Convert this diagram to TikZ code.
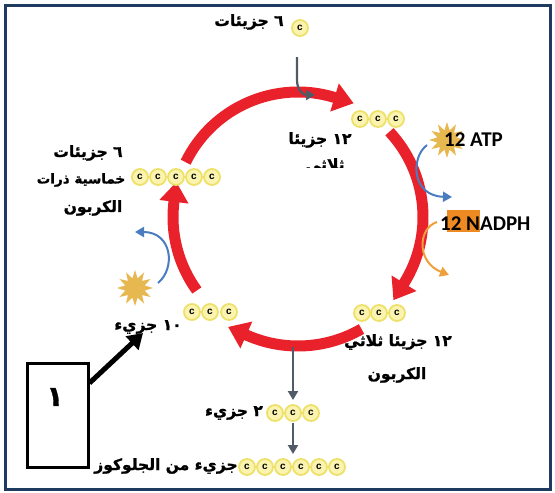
\documentclass[tikz,border=0pt]{standalone}
\usepackage{fontspec}
\usetikzlibrary{arrows.meta,shapes.geometric}
\setmainfont{Liberation Sans}
\newfontfamily\arabicfont[Script=Arabic,FakeBold=1.2]{DejaVu Sans Bold}
\newfontfamily\calfont{Carlito}
\TeXXeTstate=1
\newcommand{\artext}[1]{{\arabicfont\beginR #1\endR}}

\definecolor{framenavy}{HTML}{1F3A5F}
\definecolor{cycred}{HTML}{E9212B}
\definecolor{atomfill}{HTML}{FAF4B0}
\definecolor{atomring}{HTML}{EEE16A}
\definecolor{feedgray}{HTML}{505B66}
\definecolor{outblue}{HTML}{4A7DC0}
\definecolor{outorange}{HTML}{F0A03A}
\definecolor{nadphbox}{HTML}{EE8A22}
\definecolor{burst}{HTML}{E8B850}

\begin{document}
\begin{tikzpicture}[x=1pt,y=-1pt,
  cyc/.style={draw=cycred,line width=11pt,-{Triangle[length=20pt,width=28pt]}},
  atom/.style={circle,draw=atomring,line width=1.8pt,fill=atomfill,minimum size=16pt,
    inner sep=0pt,font=\fontsize{10}{10}\selectfont\bfseries},
  lbl/.style={inner sep=0pt,font=\fontsize{15.5}{17}\selectfont},
  feed/.style={draw=feedgray,line width=2.2pt,-{Triangle[length=9pt,width=10pt]}},
  outarrow/.style={line width=2pt,-{Triangle[length=9pt,width=10pt]}},
  burststar/.style={star,star points=12,star point ratio=1.8,fill=burst,
    minimum size=36pt,inner sep=0pt},
  energy/.style={inner sep=0pt,font=\calfont\bfseries\fontsize{21}{21}\selectfont}]

\useasboundingbox (0,0) rectangle (555,493);
\draw[framenavy,line width=3pt] (5,5) rectangle (550,489);

% Calvin cycle: four red arcs around (298,217)
\draw[cyc] ([shift={(298,217)}]-154:125) arc[start angle=-154,end angle=-73,radius=125] -- ++(17:20);
\draw[cyc] ([shift={(298,217)}]-43:125) arc[start angle=-43,end angle=32,radius=125] -- ++(122:20);
\draw[cyc] ([shift={(298,219)}]60:127) arc[start angle=60,end angle=114,radius=127] -- ++(204:20);
\draw[cyc] ([shift={(298,217)}]144:125) arc[start angle=144,end angle=187,radius=125] -- ++(277:20);

% carbon atoms
\node[atom] (cin) at (300,28) {c};
\foreach \i/\x in {1/360,2/378,3/396} \node[atom] (tr\i) at (\x,119) {c};
\foreach \i/\x in {1/362,2/379,3/397} \node[atom] (br\i) at (\x,313) {c};
\foreach \i/\x in {1/192,2/210,3/229} \node[atom] (bl\i) at (\x,312) {c};
\foreach \i/\x in {1/140,2/158,3/176,4/194,5/212} \node[atom] (lf\i) at (\x,177) {c};
\foreach \i/\x in {1/275,2/293,3/311} \node[atom] (ex\i) at (\x,413) {c};
\foreach \i/\x in {1/247,2/265,3/283,4/301,5/319,6/337} \node[atom] (gl\i) at (\x,467) {c};

% labels
\node[lbl] (lblsix) at (249,22) {\artext{٦ جزيئات}};
\node[lbl] (lbltwelve) at (320,140) {\artext{١٢ جزيئا}};
\begin{scope}
  \clip (270,150) rectangle (380,167);
  \node[lbl] (lbltri) at (325,166) {\artext{ثلاثي}};
\end{scope}
\node[lbl] (lblleftA) at (88,153) {\artext{٦ جزيئات}};
\node[lbl,font=\fontsize{13.5}{15}\selectfont] (lblleftB) at (81,180) {\artext{خماسية ذرات}};
\node[lbl] (lblleftC) at (93,208) {\artext{الكربون}};
\node[lbl] (lblten) at (148,327) {\artext{١٠ جزيء}};
\node[lbl] (lblrightA) at (398,342) {\artext{١٢ جزيئا ثلاثي}};
\node[lbl] (lblrightB) at (397,375) {\artext{الكربون}};
\node[lbl] (lbltwo) at (234,413) {\artext{٢ جزيء}};
\node[lbl] (lblglu) at (166,466) {\artext{جزيء من الجلوكوز}};

% carbon dioxide feed and product arrows
\coordinate (feedtop) at (297,57);
\coordinate (feedend) at (315,95);
\draw[feed] (feedtop) -- (297,80) .. controls (297,90) and (303,95) .. (feedend);
\coordinate (outtop) at (293,347);
\draw[feed] (outtop) -- (293,400);
\coordinate (gtop) at (293,423);
\draw[feed] (gtop) -- (293,454);

% ATP and NADPH
\node[burststar] (atpstar) at (447,140) {};
\node[energy,anchor=west] (atp) at (444,140) {12 ATP};
\coordinate (atpA) at (427,145);
\coordinate (atpB) at (452,197);
\draw[outarrow,draw=outblue] (atpA) .. controls (410,158) and (412,196) .. (atpB);
\node[fill=nadphbox,minimum width=33pt,minimum height=22pt,inner sep=0pt] (nadbox) at (463.5,221) {};
\node[energy,anchor=west] (nadph) at (440,224) {12 NADPH};
\coordinate (nadA) at (437,222);
\coordinate (nadB) at (449,275);
\draw[outarrow,draw=outorange] (nadA) .. controls (418,228) and (416,262) .. (nadB);

% ATP used in regeneration
\node[burststar] (leftstar) at (135,288) {};
\coordinate (regA) at (158,283);
\coordinate (regB) at (135,232);
\draw[outarrow,draw=outblue] (regA) .. controls (176,268) and (172,232) .. (regB);

% numbered box
\node[draw,line width=3pt,minimum width=61pt,minimum height=104pt,inner sep=0pt] (box) at (57.5,415) {};
\node[inner sep=0pt,font=\arabicfont\fontsize{28}{28}\selectfont] (boxnum) at (55,397) {١};
\coordinate (boxtip) at (143,333);
\draw[line width=5pt,-{Triangle[length=15pt,width=18pt]}] ([yshift=32pt]box.east) -- (boxtip);
\end{tikzpicture}
\end{document}
